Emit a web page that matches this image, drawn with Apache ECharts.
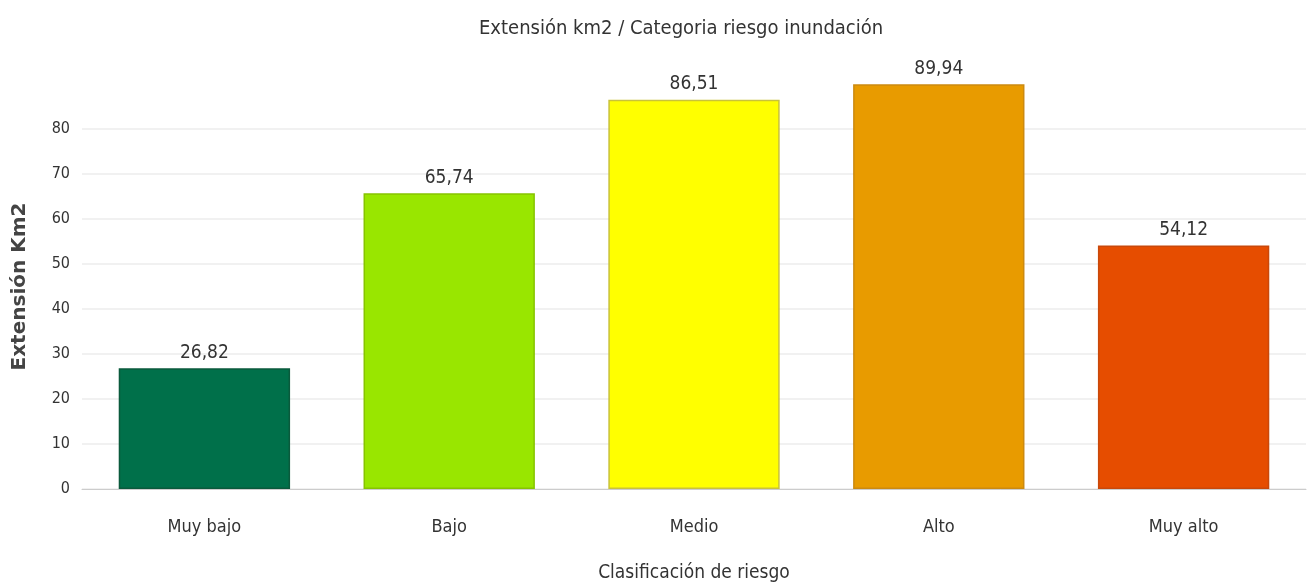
<!DOCTYPE html>
<html><head><meta charset="utf-8">
<script src="https://cdn.jsdelivr.net/npm/echarts@6/dist/echarts.min.js"></script>
<style>html,body{margin:0;padding:0;background:#fff}#c{width:1307px;height:587px}</style>
</head><body><div id="c"></div>
<script>
const categories = ['Muy bajo', 'Bajo', 'Medio', 'Alto', 'Muy alto'];
const values = [26.82, 65.74, 86.51, 89.94, 54.12];
const barColors = ['#00704a', '#99e600', '#ffff00', '#e89b00', '#e64d00'];
const borderColors = ['#0a5a3c', '#86c400', '#c9c23a', '#cc8a10', '#c9480a'];
const yTicks = [0, 10, 20, 30, 40, 50, 60, 70, 80, 90];
const FONT = "'Liberation Sans Narrow','DejaVu Sans Condensed','Noto Sans',sans-serif";
const chart = echarts.init(document.getElementById('c'));
chart.setOption({
  animation: false,
  title: {
    text: 'Extensión km2 / Categoria riesgo inundación',
    left: 474, top: 14,
    textStyle: { fontFamily: FONT, fontSize: 20, fontWeight: 'normal', color: '#333' }
  },
  grid: { left: 82, right: 1, top: 84, bottom: 98, containLabel: false, outerBoundsMode: 'none' },
  xAxis: {
    type: 'category',
    data: categories,
    name: 'Clasificación de riesgo',
    nameLocation: 'middle', nameGap: 75,
    nameTextStyle: { fontFamily: FONT, fontSize: 19, color: '#333' },
    axisLine: { lineStyle: { color: '#cccccc' } },
    axisTick: { alignWithLabel: true, length: 5, lineStyle: { color: '#bbbbbb' } },
    axisLabel: { fontFamily: FONT, fontSize: 18, color: '#333', margin: 29 }
  },
  yAxis: {
    type: 'value',
    min: yTicks[0], max: yTicks[yTicks.length - 1], interval: 10,
    name: 'Extensión Km2',
    nameLocation: 'middle', nameGap: 52,
    nameTextStyle: { fontFamily: "'DejaVu Sans',sans-serif", fontSize: 20, fontWeight: 'bold', color: '#444' },
    axisLine: { show: false },
    axisTick: { show: false },
    axisLabel: { fontFamily: FONT, fontSize: 16, color: '#333', margin: 12, showMaxLabel: false },
    splitLine: { showMaxLine: false, lineStyle: { color: '#ececec', width: 1.5 } }
  },
  series: [{
    type: 'bar',
    barWidth: '70%',
    data: values.map((v, i) => ({
      value: v,
      itemStyle: { color: barColors[i], borderColor: borderColors[i], borderWidth: 1.5 }
    })),
    label: {
      show: true, position: 'top', distance: 6,
      fontFamily: FONT, fontSize: 19, color: '#333',
      formatter: p => p.value.toFixed(2).replace('.', ',')
    }
  }]
});
</script></body></html>
